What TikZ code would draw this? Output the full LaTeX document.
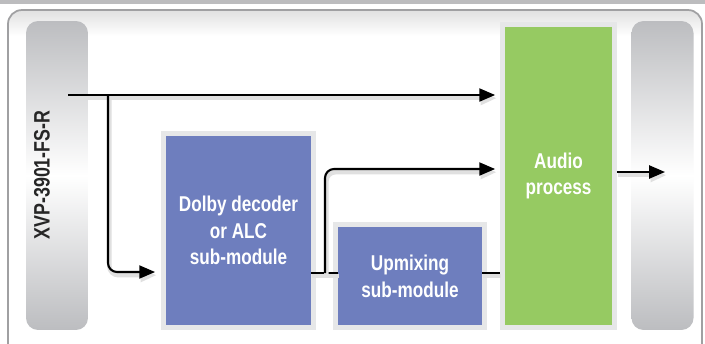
\documentclass[tikz,border=0pt]{standalone}
\usepackage{fontspec}
\setmainfont{Liberation Sans}[FakeStretch=0.8]
\usetikzlibrary{arrows.meta, positioning, calc}
\definecolor{boxblue}{RGB}{110,126,190}
\definecolor{boxgreen}{RGB}{150,202,98}
\definecolor{rimgray}{RGB}{230,231,232}
\definecolor{pillgray}{RGB}{188,189,192}
\definecolor{framegray}{RGB}{160,160,162}
\tikzstyle{lifted} = [preaction={draw=black!12, line width=2.6pt, transform canvas={shift={(0.8pt,-1.8pt)}}}]
\tikzstyle{arrow} = [lifted, line width=1.2pt, -{Triangle[length=9pt,width=7.4pt]}]
\tikzstyle{wire} = [lifted, line width=1.2pt]
\tikzstyle{module} = [draw=rimgray, line width=2.8pt, text=white, font=\bfseries\fontsize{12.2}{15.2}\selectfont, align=center, inner sep=0pt]
\tikzstyle{pill} = [rounded corners=0.24cm, top color=pillgray, bottom color=pillgray, middle color=white, minimum width=1.24cm, minimum height=6.18cm]

\begin{document}
\begin{tikzpicture}[x=0.02cm, y=-0.02cm]
   \useasboundingbox (0,0) rectangle (705,343);

   % Draw the outer frame
   \fill[framegray!70] (0,0) rectangle (705,4);
   \fill[white, rounded corners=0.28cm] (8,10) rectangle (702,360);
   \begin{scope}
     \clip[rounded corners=0.28cm] (8,10) rectangle (702,360);
     \shade[top color=black!12, bottom color=white] (8,10) rectangle (702,36);
   \end{scope}
   \draw[framegray, line width=1pt, rounded corners=0.28cm] (8,10) rectangle (702,360);

   % Source and sink bars
   \node[pill] (source) at (57,175.5) {};
   \node[rotate=90, text=black!85, font=\bfseries\fontsize{12.7}{15}\selectfont] (srclabel) at (42,175) {XVP-3901-FS-R};
   \node[pill] (sink) at (662.5,175.5) {};

   % Processing blocks
   \node[module, fill=boxblue, minimum width=3cm, minimum height=3.88cm] (dolby) at (238.5,230.5) {Dolby decoder\\or ALC\\sub-module};
   \node[module, fill=boxblue, minimum width=2.98cm, minimum height=2.06cm] (upmix) at (410,276) {Upmixing\\sub-module};
   \node[module, fill=boxgreen, minimum width=2.24cm, minimum height=6.06cm] (audio) at (558.5,176) {Audio\\process};

   % Junction points
   \coordinate (in) at (68,95);
   \coordinate (split) at (108,95);
   \coordinate (tap) at (325,273);
   \coordinate (out) at (665,172);

   % Signal paths
   \draw[arrow, shorten >=2.8pt] (in) -- (audio.west |- in);
   \draw[arrow, rounded corners=0.18cm, shorten >=3.4pt] (split) |- (dolby.west |- 0,272);
   \draw[wire, shorten <=-2.8pt, shorten >=-2.8pt] (dolby.east |- tap) -- (upmix.west |- tap);
   \draw[arrow, rounded corners=0.18cm, shorten >=2.8pt] (tap) |- (audio.west |- 0,169);
   \draw[wire, shorten <=-2.8pt] (upmix.east |- tap) -- (audio.west |- tap);
   \draw[arrow] (audio.east |- out) -- (out);

\end{tikzpicture}
\end{document}
